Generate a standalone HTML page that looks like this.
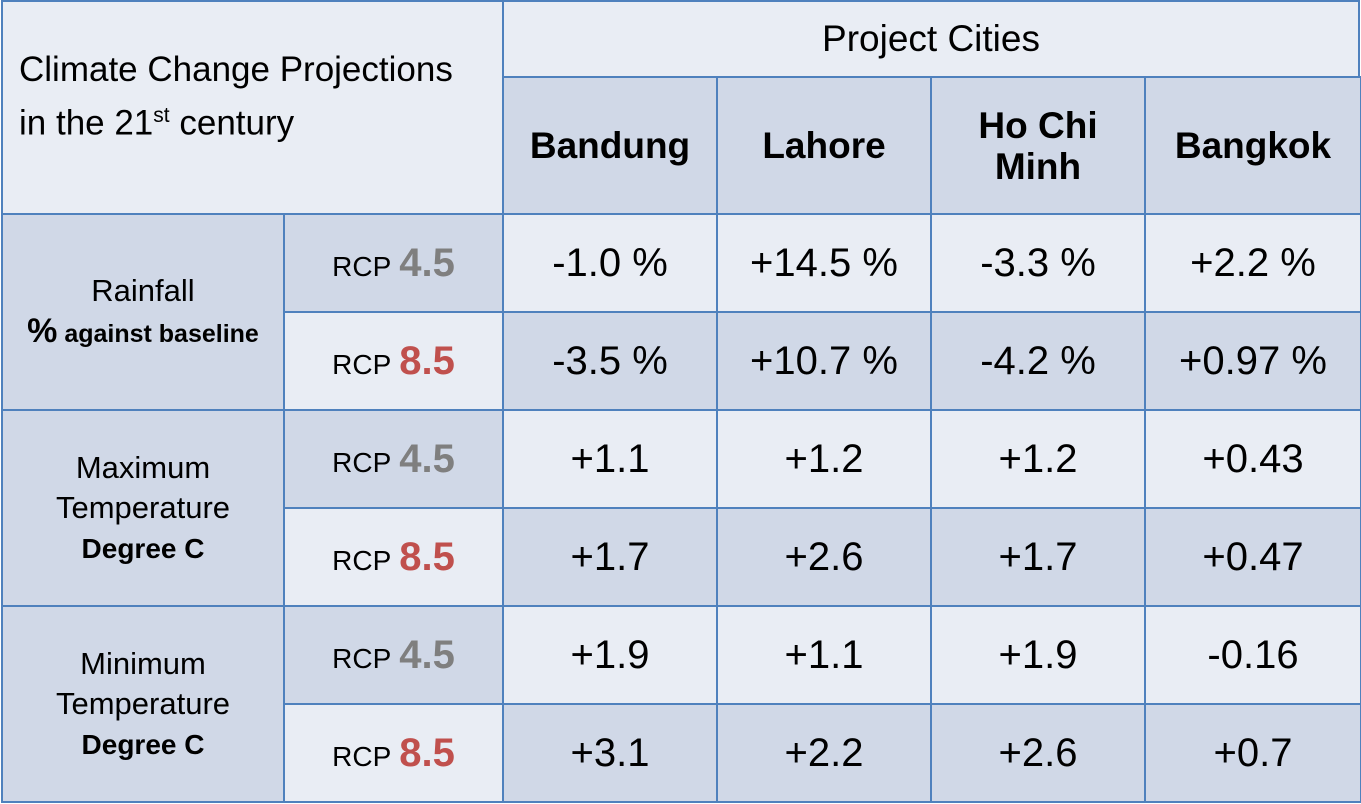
<!DOCTYPE html>
<html><head><meta charset="utf-8"><style>
body{margin:0;width:1361px;height:804px;background:#fff;font-family:"Liberation Sans",Arial,sans-serif;overflow:hidden}
.c{position:absolute;box-sizing:border-box;border:2px solid #4f81bd;display:flex;align-items:center;justify-content:center;text-align:center;color:#000}
.l{background:#e9edf4}.d{background:#d0d8e7}
.v{font-size:40px}
.rcp{font-size:28px}.rcp b{font-size:40px;margin-left:8px}
.g{color:#7f7f7f}.r{color:#c0504d}
.lab{font-size:31px;line-height:40px}
</style></head><body>
<div class="c l" style="left:1px;top:0;width:503px;height:215px;justify-content:flex-start;text-align:left;padding-left:16px;padding-bottom:22px"><span style="font-size:35px;line-height:46px">Climate Change Projections<br>in the 21<sup style="font-size:21px">st</sup> century</span></div>
<div class="c l" style="left:502px;top:0;width:858px;height:78px;font-size:37px">Project Cities</div>
<div id="t"></div>
<script>
const cities=["Bandung","Lahore","Ho Chi<br>Minh","Bangkok"];
const groups=[["Rainfall<br><b style='font-size:34px'>%</b><b style='font-size:25px'> against baseline</b>","rainfall"],["Maximum<br>Temperature<br><b style='font-size:28px'>Degree C</b>","max-temp"],["Minimum<br>Temperature<br><b style='font-size:28px'>Degree C</b>","min-temp"]];
const values=[["-1.0 %","+14.5 %","-3.3 %","+2.2 %"],["-3.5 %","+10.7 %","-4.2 %","+0.97 %"],["+1.1","+1.2","+1.2","+0.43"],["+1.7","+2.6","+1.7","+0.47"],["+1.9","+1.1","+1.9","-0.16"],["+3.1","+2.2","+2.6","+0.7"]];
const xs=[502,716,930,1144,1360];
const t=document.getElementById('t');
function cell(cls,x,y,w,h,html,name){const d=document.createElement('div');d.className='c '+cls;d.style.cssText=`left:${x}px;top:${y}px;width:${w}px;height:${h}px`;d.innerHTML=html;


t.appendChild(d);}
cities.forEach((c,i)=>cell('d',xs[i],76,xs[i+1]-xs[i]+2,139,`<b style="font-size:37px;line-height:41px">${c}</b>`,'city-header'));
const rowH=98;
groups.forEach((g,i)=>cell('d',1,213+i*2*rowH,284,2*rowH+2,`<span class="lab">${g[0]}</span>`,g[1]+'-label'));
values.forEach((row,r)=>{const y=213+r*rowH;const odd=r%2==0;
cell(odd?'d':'l',283,y,221,rowH+2,`<span class="rcp">RCP<b class="${odd?'g':'r'}">${odd?'4.5':'8.5'}</b></span>`,odd?'rcp-45-label':'rcp-85-label');
row.forEach((v,i)=>cell(odd?'l':'d',xs[i],y,xs[i+1]-xs[i]+2,rowH+2,`<span class="v">${v}</span>`,'value-cell'));});
</script>
</body></html>
